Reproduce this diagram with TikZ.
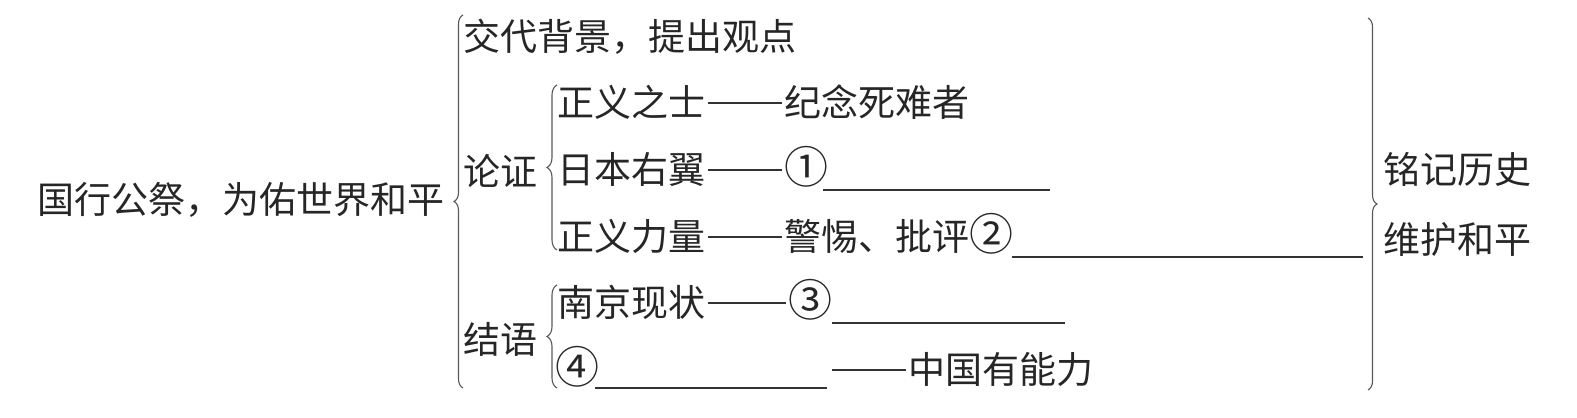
\documentclass[tikz,border=0pt]{standalone}
\usepackage{fontspec}
\setmainfont{Noto Sans CJK SC}
\usetikzlibrary{positioning,decorations.pathreplacing}

\newcommand{\circnum}[1]{{\fontsize{22pt}{22pt}\selectfont #1}}

\begin{document}
\begin{tikzpicture}[
    x=0.5pt, y=-0.5pt,
    txt/.style={inner sep=0pt,anchor=west,text=black!85,text height=16pt,text depth=2.5pt,
        font=\fontsize{18.5pt}{22pt}\selectfont},
    brc/.style={decorate,decoration={brace,amplitude=#1},draw=black!65,line width=0.55pt},
    brc/.default=4.5pt,
    dashline/.style={draw=black!80,line width=0.7pt,shorten <=1pt,shorten >=1pt},
    blank/.style={draw=black!80,line width=0.7pt}
]
\useasboundingbox (0,0) rectangle (1577,417);

% left part
\node[txt] (topic) at (37,200) {国行公祭，为佑世界和平};
\draw[brc] (463,388) -- (463,15);

\node[txt] (bg) at (463,37) {交代背景，提出观点};
\node[txt] (lz) at (463,172) {论证};
\node[txt] (jy) at (463,340) {结语};
\draw[brc=5pt] (557,250) -- (557,85);
\draw[brc=5pt] (557,388) -- (557,285);

% 论证
\node[txt] (zs) at (557,103) {正义之士};
\node[txt,right=39pt of zs] (jn) {纪念死难者};
\draw[dashline] (zs) -- (jn);

\node[txt] (rb) at (557,170) {日本右翼};
\node[txt,right=39pt of rb] (c1) {\circnum{①}};
\draw[dashline] (rb) -- (c1);
\coordinate (b1l) at (823,190);
\coordinate (b1r) at (1050,190);
\draw[blank] (b1l) -- (b1r);

\node[txt] (zl) at (557,237) {正义力量};
\node[txt,right=39pt of zl] (jt) {警惕、批评\circnum{②}};
\draw[dashline] (zl) -- (jt);
\coordinate (b2l) at (1012,257);
\coordinate (b2r) at (1363,257);
\draw[blank] (b2l) -- (b2r);

% 结语
\node[txt] (nj) at (557,303) {南京现状};
\node[txt,right=41pt of nj] (c3) {\circnum{③}};
\draw[dashline] (nj) -- (c3);
\coordinate (b3l) at (832,323);
\coordinate (b3r) at (1065,323);
\draw[blank] (b3l) -- (b3r);

\node[txt] (c4) at (555,370) {\circnum{④}};
\coordinate (b4l) at (595,388);
\coordinate (b4r) at (827,388);
\draw[blank] (b4l) -- (b4r);
\node[txt] (zg) at (908,370) {中国有能力};
\coordinate (d5) at (830,370);
\draw[dashline] (d5) -- (zg);

% right part
\draw[brc] (1368,18) -- (1368,390);
\node[txt] (mj) at (1383,170) {铭记历史};
\node[txt] (wh) at (1383,240) {维护和平};
\end{tikzpicture}
\end{document}
